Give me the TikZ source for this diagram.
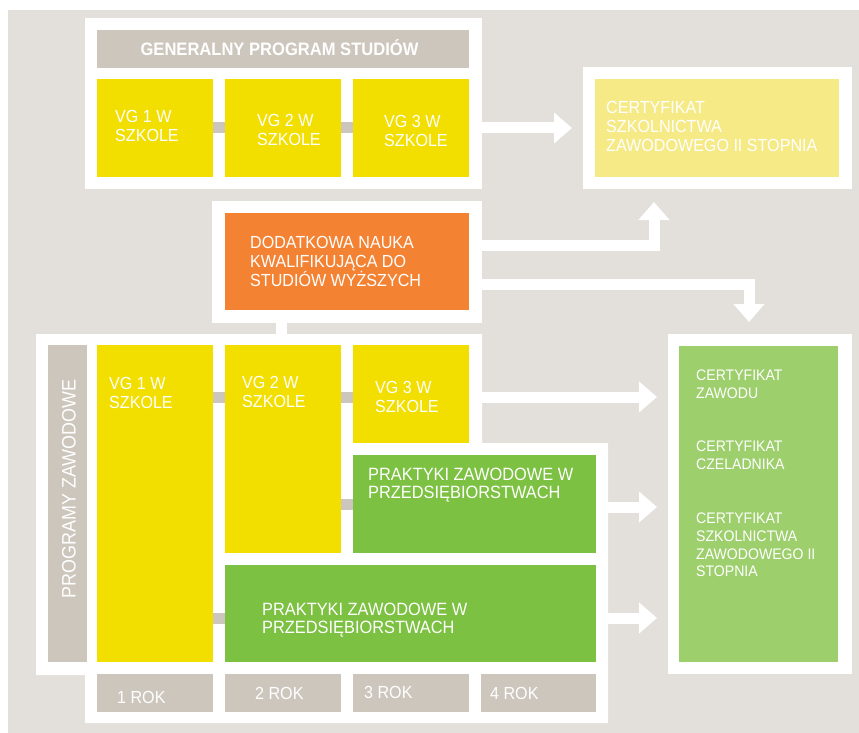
\documentclass[tikz,border=0pt]{standalone}
\usepackage{fontspec}
\setmainfont[FakeStretch=0.92]{Liberation Sans}
\usetikzlibrary{arrows.meta}

\definecolor{bggray}{HTML}{E3E0DB}
\definecolor{bargray}{HTML}{CDC6BD}
\definecolor{vgyellow}{HTML}{F2DF00}
\definecolor{certyellow}{HTML}{F6EA86}
\definecolor{dodorange}{HTML}{F48233}
\definecolor{praxgreen}{HTML}{7CC142}
\definecolor{certgreen}{HTML}{9ECF6D}

\begin{document}
\begin{tikzpicture}[x=1pt,y=-1pt,
    box/.style={anchor=north west,inner sep=0pt,outer sep=0pt},
    frame/.style={box,fill=white},
    txt/.style={anchor=north west,inner sep=0pt,text=white,align=left,
      font=\fontsize{17.5}{19}\selectfont},
    link/.style={draw=bargray,line width=11pt},
    arr/.style={draw=white,line width=11pt,line join=miter,
      -{Triangle[length=18pt,width=30pt]}}]
    \useasboundingbox (0,0) rectangle (859,733);
    \fill[white] (0,0) rectangle (859,733);
    \fill[bggray] (8,10) rectangle (859,733);

    % white frames
    \node[frame,minimum width=397pt,minimum height=171pt] (topfr) at (85,18) {};
    \node[frame,minimum width=269pt,minimum height=122pt] (certfr) at (583,67) {};
    \node[frame,minimum width=270pt,minimum height=122pt] (dodfr) at (212,201) {};
    \node[frame,minimum width=184pt,minimum height=340pt] (zawfr) at (668,334) {};
    \fill[white] (36,334) -- (482,334) -- (482,443) -- (608,443) -- (608,723)
      -- (85,723) -- (85,675) -- (36,675) -- cycle;
    \fill[white] (276,322) rectangle (287,335);

    % general programme
    \node[box,fill=bargray,minimum width=372pt,minimum height=38pt] (gen) at (97,30) {};
    \node[anchor=base,inner sep=0pt,text=white,font=\bfseries\fontsize{18}{20}\selectfont]
      (gent) at (279.5,56) {GENERALNY PROGRAM STUDIÓW};
    \foreach \i/\x/\tx/\ty in {1/97/115/110.5, 2/225/257/114.5, 3/353/384/115.5}
    {
      \node[box,fill=vgyellow,minimum width=116pt,minimum height=98pt] (g\i) at (\x,79) {};
      \node[txt] (gt\i) at (\tx,\ty) {VG \i{} W\\SZKOLE};
    }
    \draw[link] (g1) -- (g2);
    \draw[link] (g2) -- (g3);

    \node[box,fill=certyellow,minimum width=244pt,minimum height=98pt] (cert) at (595,79) {};
    \node[txt,font=\fontsize{17.5}{19.2}\selectfont] (certt) at (606,100.8)
      {CERTYFIKAT\\SZKOLNICTWA\\ZAWODOWEGO II STOPNIA};
    \draw[arr,shorten >=11pt] (g3.east) -- (g3.east -| certfr.west);

    % extra study
    \node[box,fill=dodorange,minimum width=244pt,minimum height=97pt] (dod) at (225,213) {};
    \node[txt] (dodt) at (250,235.8)
      {DODATKOWA NAUKA\\KWALIFIKUJĄCA DO\\STUDIÓW WYŻSZYCH};
    \coordinate (upend) at (654,202);
    \coordinate (downend) at (749,322);
    \draw[arr] ([yshift=16.5pt]dod.east) -| (upend);
    \draw[arr] ([yshift=-22.5pt]dod.east) -| (downend);

    % vocational programmes
    \node[box,fill=bargray,minimum width=39pt,minimum height=317pt] (prog) at (48,345) {};
    \node[inner sep=0pt,text=white,rotate=90,font=\fontsize{19.5}{22}\selectfont]
      (progt) at (69,489) {PROGRAMY ZAWODOWE};

    \node[box,fill=vgyellow,minimum width=116pt,minimum height=317pt] (v1) at (97,345) {};
    \node[box,fill=vgyellow,minimum width=116pt,minimum height=208pt] (v2) at (225,345) {};
    \node[box,fill=vgyellow,minimum width=116pt,minimum height=98pt] (v3) at (353,345) {};
    \node[txt] (vt1) at (109,377.5) {VG 1 W\\SZKOLE};
    \node[txt] (vt2) at (242,376.5) {VG 2 W\\SZKOLE};
    \node[txt] (vt3) at (375,381.5) {VG 3 W\\SZKOLE};

    \node[box,fill=praxgreen,minimum width=243pt,minimum height=98pt] (p1) at (353,455) {};
    \node[box,fill=praxgreen,minimum width=371pt,minimum height=97pt] (p2) at (225,565) {};
    \node[txt,font=\fontsize{17.8}{18.3}\selectfont] (pt1) at (368,467.5)
      {PRAKTYKI ZAWODOWE W\\PRZEDSIĘBIORSTWACH};
    \node[txt,font=\fontsize{17.8}{18.3}\selectfont] (pt2) at (262,602.5)
      {PRAKTYKI ZAWODOWE W\\PRZEDSIĘBIORSTWACH};

    \coordinate (row1) at (0,397);
    \coordinate (row2) at (0,507);
    \coordinate (row3) at (0,618);
    \draw[link] (v1.east |- row1) -- (v2.west |- row1);
    \draw[link] (v2.east |- row1) -- (v3.west |- row1);
    \draw[link] (v2.east |- p1) -- (p1.west);
    \draw[link] (v1.east |- row3) -- (p2.west |- row3);

    \foreach \i/\x/\w/\tx/\ty in {1/97/116pt/117/703, 2/225/116pt/255/699,
                                  3/353/116pt/364/698, 4/481/115pt/490/699}
    {
      \node[box,fill=bargray,minimum width=\w,minimum height=38pt] (rok\i) at (\x,674) {};
      \node[txt,anchor=base west] (rokt\i) at (\tx,\ty) {\i{} ROK};
    }

    % certificates
    \node[box,fill=certgreen,minimum width=159pt,minimum height=316pt] (zaw) at (679,346) {};
    \node[txt,font=\fontsize{15.3}{17.8}\selectfont] (zawt) at (696,369.8)
      {CERTYFIKAT\\ZAWODU\\[35.6pt]CERTYFIKAT\\CZELADNIKA\\[36pt]CERTYFIKAT\\SZKOLNICTWA\\ZAWODOWEGO II\\STOPNIA};
    \draw[arr,shorten >=11pt] (v3.east |- row1) -- (zawfr.west |- row1);
    \draw[arr,shorten >=11pt] (p1.east |- row2) -- (zawfr.west |- row2);
    \draw[arr,shorten >=11pt] (p2.east |- row3) -- (zawfr.west |- row3);
\end{tikzpicture}
\end{document}
